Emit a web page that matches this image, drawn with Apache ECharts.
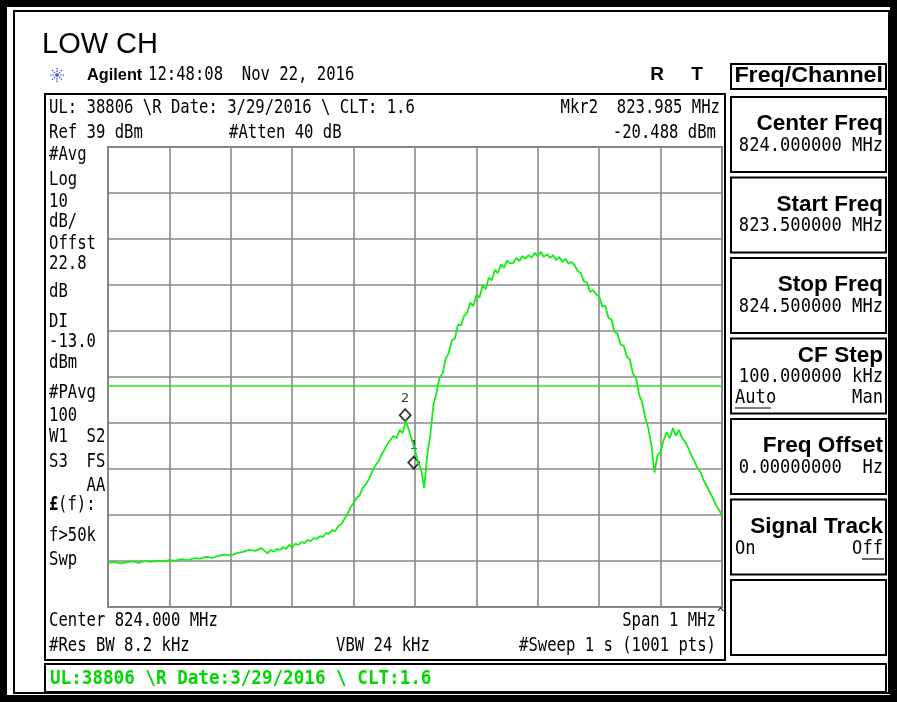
<!DOCTYPE html>
<html>
<head>
<meta charset="utf-8">
<title>LOW CH</title>
<script src="https://cdn.jsdelivr.net/npm/echarts@6/dist/echarts.min.js"></script>
<style>
    html, body { margin: 0; padding: 0; background: #fff; }
    #main { width: 897px; height: 702px; }
</style>
</head>
<body>
<div id="main"></div>
<script>
// sweep points (MHz / dBm)
var traceFreq = [
    823.5, 823.51, 823.52, 823.53, 823.54, 823.55, 823.56, 823.57, 823.58, 823.59,
    823.6, 823.61, 823.62, 823.63, 823.64, 823.65, 823.66, 823.67, 823.68, 823.69,
    823.7, 823.71, 823.72, 823.73, 823.74, 823.75,
    823.755, 823.76, 823.765, 823.77, 823.775, 823.78, 823.785, 823.79, 823.795, 823.8,
    823.805, 823.81, 823.815, 823.82, 823.825, 823.83, 823.835, 823.84, 823.845, 823.85,
    823.855, 823.86, 823.865, 823.87, 823.875, 823.88, 823.885, 823.89, 823.895, 823.9,
    823.905, 823.91, 823.915, 823.92, 823.925, 823.93, 823.935, 823.94, 823.945, 823.95,
    823.955, 823.96, 823.965, 823.97, 823.975, 823.98, 823.985, 823.99, 823.995, 824.0,
    824.005, 824.01, 824.015, 824.02, 824.025, 824.03, 824.035, 824.04, 824.045, 824.05,
    824.055, 824.06, 824.065, 824.07, 824.075, 824.08, 824.085, 824.09, 824.095, 824.1,
    824.105, 824.11, 824.115, 824.12, 824.125, 824.13, 824.135, 824.14, 824.145, 824.15,
    824.155, 824.16, 824.165, 824.17, 824.175, 824.18, 824.185, 824.19, 824.195, 824.2,
    824.205, 824.21, 824.215, 824.22, 824.225, 824.23, 824.235, 824.24, 824.245, 824.25,
    824.255, 824.26, 824.265, 824.27, 824.275, 824.28, 824.285, 824.29, 824.295, 824.3,
    824.305, 824.31, 824.315, 824.32, 824.325, 824.33, 824.335, 824.34, 824.345, 824.35,
    824.355, 824.36, 824.365, 824.37, 824.375, 824.38, 824.385, 824.39, 824.395, 824.4,
    824.405, 824.41, 824.415, 824.42, 824.425, 824.43, 824.435, 824.44, 824.445, 824.45,
    824.455, 824.46, 824.465, 824.47, 824.475, 824.48, 824.485, 824.49, 824.495, 824.5
];
var traceLevel = [
    -51.4, -51.2, -51.5, -51.3, -51.1, -51.4, -51.0, -51.2, -50.9, -51.1,
    -50.8, -50.9, -50.6, -50.8, -50.4, -50.5, -50.1, -50.3, -49.9, -49.6,
    -49.8, -49.3, -49.0, -48.6, -48.8, -48.2,
    -48.8, -49.3, -48.6, -49.0, -48.4, -48.6, -48.0, -48.4, -47.5, -48.0,
    -47.3, -47.5, -46.9, -47.1, -46.4, -46.7, -46.0, -46.2, -45.6, -45.8,
    -44.9, -45.1, -44.3, -44.5, -43.4, -43.0, -41.9, -40.8, -39.3, -38.4,
    -37.3, -36.7, -35.1, -34.3, -33.2, -31.7, -30.3, -29.5, -28.0, -26.9,
    -25.6, -24.7, -23.8, -24.3, -22.5, -23.2, -20.5, -22.5, -24.7, -26.9,
    -29.5, -31.2, -35.1, -28.0, -23.6, -17.1, -14.5, -11.2, -10.2, -7.0,
    -5.8, -3.0, -2.6, 0.4, 0.2, 2.3, 3.0, 5.2, 4.4, 6.9,
    6.2, 8.9, 8.1, 10.6, 10.0, 12.3, 11.6, 13.5, 12.8, 14.3,
    13.7, 13.8, 14.9, 14.2, 15.3, 14.7, 15.5, 14.9, 16.0, 15.3,
    16.2, 15.1, 15.7, 14.9, 15.5, 14.4, 15.1, 14.0, 14.7, 13.6,
    14.0, 13.3, 12.0, 11.6, 9.8, 9.6, 7.5, 7.9, 7.0, 6.5,
    4.3, 4.5, 1.9, 1.5, -1.2, -1.6, -4.0, -4.2, -6.6, -7.2,
    -10.3, -11.2, -14.8, -16.5, -19.8, -22.1, -25.8, -31.8, -28.0, -27.3,
    -24.7, -23.0, -24.3, -22.1, -23.8, -22.5, -24.3, -25.1, -26.4, -28.0,
    -29.3, -30.8, -31.7, -33.4, -34.7, -36.0, -37.3, -38.8, -39.9, -41.0
];
// markers (diamond positions) and display line
var markerNames = ['1', '2'];
var markerFreq = [823.998, 823.984];
var markerLevel = [-29.6, -19.3];
var displayLine = -13.0;

// screen settings
var refLevel = 39;
var dbPerDiv = 10;
var startFreq = 823.5;
var stopFreq = 824.5;

var leftNotes = ['#Avg', 'Log', '10', 'dB/', 'Offst', '22.8', 'dB', 'DI', '-13.0', 'dBm',
    '#PAvg', '100', 'W1  S2', 'S3  FS', '    AA', '', 'f>50k', 'Swp'];
var leftNotesY = [155, 180, 202, 222, 244, 264, 292, 322, 342, 363,
    393, 416, 437, 462, 486, 505, 536, 560];

var keyTitles = ['Center Freq', 'Start Freq', 'Stop Freq', 'CF Step', 'Freq Offset', 'Signal Track', ''];
var keyValues = ['824.000000 MHz', '823.500000 MHz', '824.500000 MHz', '100.000000 kHz', '0.00000000  Hz', '', ''];

var MONO = '19px "DejaVu Sans Mono"';
var KEYFONT = 'bold 22px "Liberation Sans"';

var chart = echarts.init(document.getElementById('main'));

function txt(x, y, s, opt) {
    opt = opt || {};
    return {
        type: 'text', x: x, y: y, scaleX: opt.sx || 0.82, z: 100, silent: true,
        style: {
            text: s,
            font: opt.font || MONO,
            fill: opt.color || '#000',
            textAlign: opt.align || 'left', align: opt.align || 'left',
            textVerticalAlign: 'middle', verticalAlign: 'middle'
        }
    };
}
function box(x, y, w, h, lw, color) {
    return {
        type: 'rect', z: 90, silent: true,
        shape: { x: x, y: y, width: w, height: h },
        style: { fill: 'none', stroke: color || '#000', lineWidth: lw }
    };
}
function hline(x1, x2, y, lw) {
    return {
        type: 'line', z: 100, silent: true,
        shape: { x1: x1, y1: y, x2: x2, y2: y },
        style: { stroke: '#000', lineWidth: lw || 1 }
    };
}

var g = [];
// outer frame
g.push(box(3.5, 3.5, 890, 695, 7));
g.push(box(14, 11, 875, 682, 2));
// title and header
g.push(txt(42, 45, 'LOW CH', { font: '29px "Liberation Sans"', sx: 1 }));
// agilent star
for (var i = 0; i < 4; i++) {
    var a = i * Math.PI / 4;
    g.push({
        type: 'line', z: 100, silent: true,
        shape: { x1: 57 - 7 * Math.cos(a), y1: 75 - 7 * Math.sin(a), x2: 57 + 7 * Math.cos(a), y2: 75 + 7 * Math.sin(a) },
        style: { stroke: '#3344dd', lineWidth: 1.2, lineDash: [1.5, 1] }
    });
}
g.push(txt(87, 75, 'Agilent', { font: 'bold 17px "Liberation Sans"', sx: 0.96 }));
g.push(txt(148, 75, '12:48:08  Nov 22, 2016'));
g.push(txt(657, 75, 'R', { font: 'bold 19px "Liberation Sans"', sx: 1, align: 'center' }));
g.push(txt(697, 75, 'T', { font: 'bold 19px "Liberation Sans"', sx: 1, align: 'center' }));

// main panel
g.push(box(45, 94, 680, 566, 2));
g.push(txt(49, 108, 'UL: 38806 \\R Date: 3/29/2016 \\ CLT: 1.6'));
g.push(txt(720, 108, 'Mkr2  823.985 MHz', { align: 'right' }));
g.push(txt(49, 133, 'Ref 39 dBm'));
g.push(txt(229, 133, '#Atten 40 dB'));
g.push(txt(716, 133, '-20.488 dBm', { align: 'right' }));
for (i = 0; i < leftNotes.length; i++) {
    if (leftNotes[i]) g.push(txt(49, leftNotesY[i], leftNotes[i]));
}
g.push(txt(49, 505, '\u00a3', { font: 'bold 19px "DejaVu Sans Mono"' }));
g.push(txt(58, 505, '(f):'));
g.push(txt(49, 621, 'Center 824.000 MHz'));
g.push(txt(716, 621, 'Span 1 MHz', { align: 'right' }));
g.push(txt(717, 614, '^', { font: '12px "DejaVu Sans Mono"', sx: 1 }));
g.push(txt(49, 646, '#Res BW 8.2 kHz'));
g.push(txt(336, 646, 'VBW 24 kHz'));
g.push(txt(716, 646, '#Sweep 1 s (1001 pts)', { align: 'right' }));

// status line
g.push(box(45, 664, 841, 28, 2));
g.push(txt(50, 679, 'UL:38806 \\R Date:3/29/2016 \\ CLT:1.6',
    { font: 'bold 20px "DejaVu Sans Mono"', sx: 0.88, color: '#00d800' }));

// softkeys
g.push(box(731, 64, 155, 25, 2));
g.push(txt(883, 76, 'Freq/Channel', { font: KEYFONT, sx: 1.057, align: 'right' }));
for (i = 0; i < keyTitles.length; i++) {
    var keyTop = 97 + i * 80.5;
    g.push(box(731, keyTop, 155, 75, 2));
    if (keyTitles[i]) {
        var ty = keyTop + (keyTitles[i] === 'CF Step' ? 17 : 27);
        g.push(txt(883, ty, keyTitles[i], { font: KEYFONT, sx: 1.025, align: 'right' }));
    }
    if (keyValues[i]) {
        var vy = keyTop + (keyTitles[i] === 'CF Step' ? 39 : 49);
        g.push(txt(883, vy, keyValues[i], { sx: 0.9, align: 'right' }));
    }
}
g.push(txt(735, 398, 'Auto', { sx: 0.9 }));
g.push(hline(735, 771, 408, 1.2));
g.push(txt(883, 398, 'Man', { sx: 0.9, align: 'right' }));
g.push(txt(735, 549, 'On', { sx: 0.9 }));
g.push(txt(883, 549, 'Off', { sx: 0.9, align: 'right' }));
g.push(hline(862, 884, 559, 1.2));

var tracePoints = [];
for (i = 0; i < traceFreq.length; i++) {
    tracePoints.push([traceFreq[i], traceLevel[i]]);
}
var markerPoints = [];
for (i = 0; i < markerFreq.length; i++) {
    markerPoints.push({ name: markerNames[i], value: [markerFreq[i], markerLevel[i]] });
}

var option = {
    animation: false,
    backgroundColor: '#fff',
    grid: {
        left: 108, top: 147, width: 614, height: 460,
        show: true, borderColor: '#7c7c7c', borderWidth: 2
    },
    xAxis: {
        type: 'value', min: startFreq, max: stopFreq, interval: 0.1,
        axisLine: { show: false }, axisTick: { show: false }, axisLabel: { show: false },
        splitLine: { lineStyle: { color: '#8a8a8a', width: 1.6 } }
    },
    yAxis: {
        type: 'value', min: refLevel - 10 * dbPerDiv, max: refLevel, interval: dbPerDiv,
        axisLine: { show: false }, axisTick: { show: false }, axisLabel: { show: false },
        splitLine: { lineStyle: { color: '#8a8a8a', width: 1.6 } }
    },
    series: [
        {
            type: 'scatter',
            data: markerPoints,
            symbol: 'diamond',
            symbolSize: [11, 12],
            z: 3,
            itemStyle: { color: 'rgba(255,255,255,0)', borderColor: '#000', borderWidth: 1.8 },
            label: {
                show: true, position: 'top', distance: 3,
                formatter: '{b}', color: '#000', fontSize: 13, fontFamily: 'DejaVu Sans'
            }
        },
        {
            type: 'line',
            data: tracePoints,
            showSymbol: false,
            z: 4,
            lineStyle: { color: '#14ee14', width: 1.8 },
            markLine: {
                silent: true, symbol: 'none', label: { show: false },
                lineStyle: { color: '#14ee14', width: 1.5, type: 'solid' },
                data: [{ yAxis: displayLine }]
            }
        }
    ],
    graphic: g
};
chart.setOption(option);
</script>
</body>
</html>
